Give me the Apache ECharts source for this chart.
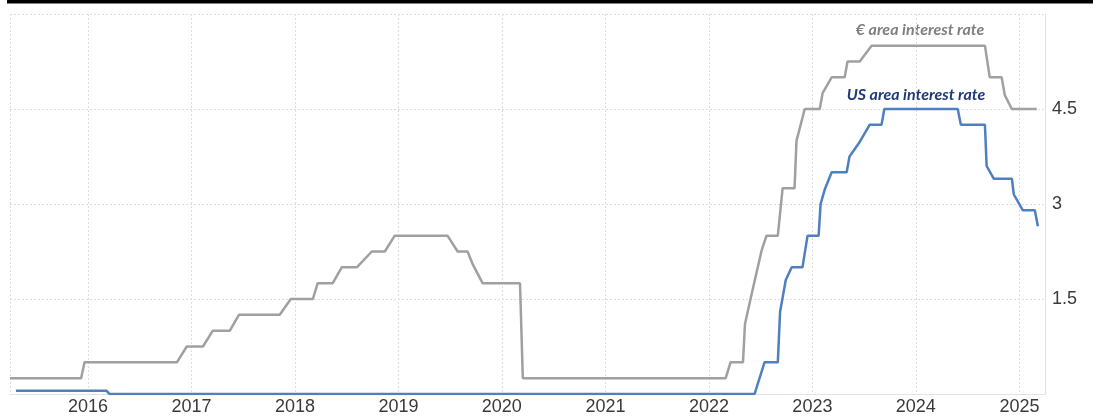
<!DOCTYPE html>
<html>
<head>
<meta charset="utf-8">
<script src="https://cdn.jsdelivr.net/npm/echarts@6/dist/echarts.min.js"></script>
<style>
  html, body { margin: 0; padding: 0; background: #ffffff; }
  #chart { width: 1097px; height: 417px; }
</style>
</head>
<body>
<div id="chart"></div>
<script>
// Policy rate paths: turning points of each line (date, rate in %)
const euroDates = [
  '2015-04-01', '2015-12-08', '2015-12-20', '2016-11-10', '2016-12-15',
  '2017-02-10', '2017-03-17', '2017-05-16', '2017-06-17', '2017-11-08',
  '2017-12-17', '2018-03-05', '2018-03-22', '2018-05-14', '2018-06-15',
  '2018-08-07', '2018-09-29', '2018-11-14', '2018-12-19', '2019-06-23',
  '2019-07-29', '2019-09-02', '2019-09-20', '2019-10-25', '2020-03-05',
  '2020-03-15', '2022-03-01', '2022-03-18', '2022-05-01', '2022-05-08',
  '2022-05-25', '2022-07-06', '2022-07-23', '2022-09-01', '2022-09-18',
  '2022-10-30', '2022-11-06', '2022-12-05', '2023-01-27', '2023-02-06',
  '2023-03-10', '2023-04-25', '2023-05-05', '2023-06-17', '2023-07-29',
  '2024-09-01', '2024-09-18', '2024-10-30', '2024-11-10', '2024-12-05',
  '2025-03-03'
];
const euroRates = [
  0.25, 0.25, 0.5, 0.5, 0.75,
  0.75, 1.0, 1.0, 1.25, 1.25,
  1.5, 1.5, 1.75, 1.75, 2.0,
  2.0, 2.25, 2.25, 2.5, 2.5,
  2.25, 2.25, 2.05, 1.75, 1.75,
  0.25, 0.25, 0.5, 0.5, 1.1,
  1.45, 2.27, 2.5, 2.5, 3.25,
  3.25, 4.0, 4.5, 4.5, 4.75,
  5.0, 5.0, 5.25, 5.25, 5.5,
  5.5, 5.0, 5.0, 4.72, 4.5,
  4.5
];

const usDates = [
  '2015-04-22', '2016-03-07', '2016-03-17', '2022-06-11', '2022-07-16',
  '2022-09-01', '2022-09-09', '2022-09-29', '2022-10-20', '2022-11-27',
  '2022-12-15', '2023-01-23', '2023-01-30', '2023-02-13', '2023-03-10',
  '2023-05-02', '2023-05-12', '2023-06-17', '2023-07-22', '2023-09-02',
  '2023-09-12', '2024-05-28', '2024-06-08', '2024-09-01', '2024-09-07',
  '2024-10-02', '2024-12-05', '2024-12-12', '2025-01-13', '2025-02-24',
  '2025-03-07'
];
const usRates = [
  0.05, 0.05, 0, 0, 0.5,
  0.5, 1.3, 1.8, 2.0, 2.0,
  2.5, 2.5, 3.0, 3.22, 3.5,
  3.5, 3.75, 3.98, 4.25, 4.25,
  4.5, 4.5, 4.25, 4.25, 3.6,
  3.4, 3.4, 3.15, 2.9, 2.9,
  2.65
];

const seriesNames = ['€ area interest rate', 'US area interest rate'];
const yTickLabels = ['1.5', '3', '4.5'];
const xStart = '2015-04-01';
const xEnd = '2025-04-01';

const pairs = (dates, vals) => dates.map((d, i) => [d, vals[i]]);

const chart = echarts.init(document.getElementById('chart'), null, { renderer: 'canvas' });

const gridLine = { show: true, lineStyle: { color: '#dddddd', width: 1, type: [2, 2] } };

chart.setOption({
  animation: false,
  backgroundColor: '#ffffff',
  grid: { left: 10, right: 52, top: 14, bottom: 23, containLabel: false },
  xAxis: {
    type: 'time',
    min: xStart,
    max: xEnd,
    splitNumber: 10,
    minInterval: 365 * 24 * 3600 * 1000,
    axisLine: { show: true, lineStyle: { color: '#e3e3e3', width: 1 } },
    axisTick: { show: false },
    axisLabel: {
      color: '#3a3a3a',
      fontFamily: 'Liberation Sans, Arial, sans-serif',
      fontSize: 18,
      margin: 4,
      hideOverlap: false,
      formatter: function (v) {
        const d = new Date(v);
        return (d.getMonth() === 0 && d.getDate() === 1) ? String(d.getFullYear()) : '';
      }
    },
    splitLine: gridLine
  },
  yAxis: {
    type: 'value',
    position: 'right',
    min: 0,
    max: 6,
    interval: 1.5,
    axisLine: { show: true, lineStyle: { color: '#e3e3e3', width: 1 } },
    axisTick: { show: false },
    axisLabel: {
      color: '#3a3a3a',
      fontFamily: 'Liberation Sans, Arial, sans-serif',
      fontSize: 18,
      margin: 7,
      showMinLabel: false,
      showMaxLabel: false,
      formatter: function (v) {
        const s = String(v);
        return yTickLabels.indexOf(s) >= 0 ? s : '';
      }
    },
    splitLine: gridLine
  },
  series: [
    {
      name: seriesNames[0],
      type: 'line',
      data: pairs(euroDates, euroRates),
      showSymbol: false,
      lineStyle: { color: '#a0a0a0', width: 2.5 },
      z: 3
    },
    {
      name: seriesNames[1],
      type: 'line',
      data: pairs(usDates, usRates),
      showSymbol: false,
      lineStyle: { color: '#4f7fbf', width: 2.5 },
      z: 4
    }
  ],
  graphic: [
    {
      type: 'rect',
      shape: { x: 7, y: 0, width: 1086, height: 3.5 },
      style: { fill: '#000000' }
    },
    {
      type: 'text',
      x: 920, y: 30,
      style: {
        text: seriesNames[0],
        fill: '#7f7f7f',
        font: 'italic bold 16px Lato, "Open Sans", sans-serif',
        textAlign: 'center',
        textVerticalAlign: 'middle'
      }
    },
    {
      type: 'text',
      x: 916, y: 95,
      style: {
        text: seriesNames[1],
        fill: '#1f3a78',
        font: 'italic bold 16px Lato, "Open Sans", sans-serif',
        textAlign: 'center',
        textVerticalAlign: 'middle'
      }
    }
  ]
});
</script>
</body>
</html>
